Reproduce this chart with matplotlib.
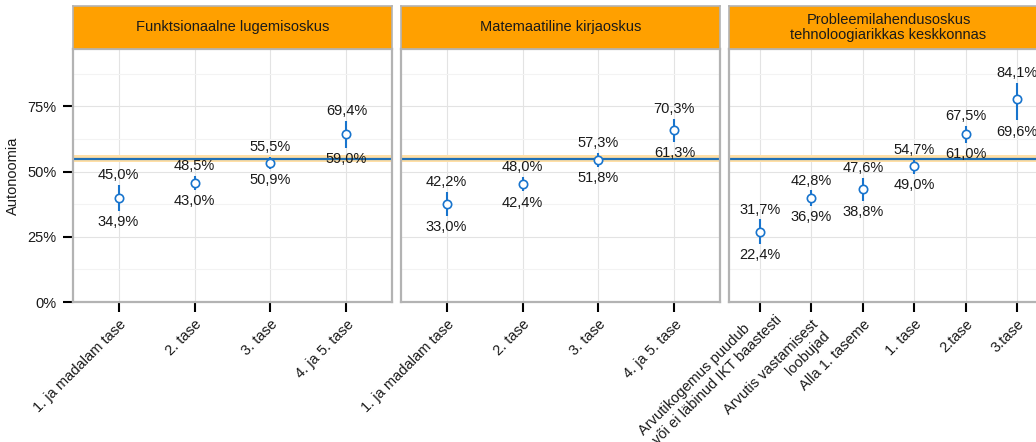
import numpy as np
import matplotlib
matplotlib.use("Agg")
import matplotlib.pyplot as plt
from matplotlib.ticker import FixedLocator

plt.rcParams['font.family'] = ['Liberation Sans', 'DejaVu Sans']

#------------------------------------------------------------------------------
# data (percent)

panels = ["Funktsionaalne lugemisoskus",
          "Matemaatiline kirjaoskus",
          "Probleemilahendusoskus\ntehnoloogiarikkas keskkonnas"]

cats1 = ["1. ja madalam tase", "2. tase", "3. tase", "4. ja 5. tase"]
cats2 = ["1. ja madalam tase", "2. tase", "3. tase", "4. ja 5. tase"]
cats3 = ["Arvutikogemus puudub\nvõi ei läbinud IKT baastesti",
         "Arvutis vastamisest\nloobujad", "Alla 1. taseme",
         "1. tase", "2.tase", "3.tase"]

est1 = [40.0, 45.8, 53.3, 64.5]
lo1 = [34.9, 43.0, 50.9, 59.0]
hi1 = [45.0, 48.5, 55.5, 69.4]

est2 = [37.7, 45.3, 54.6, 66.0]
lo2 = [33.0, 42.4, 51.8, 61.3]
hi2 = [42.2, 48.0, 57.3, 70.3]

est3 = [27.0, 40.0, 43.5, 52.2, 64.5, 78.0]
lo3 = [22.4, 36.9, 38.8, 49.0, 61.0, 69.6]
hi3 = [31.7, 42.8, 47.6, 54.7, 67.5, 84.1]

overall = 55.0
overall_lo = 53.6
overall_hi = 56.3

#------------------------------------------------------------------------------

W, H = 1036, 442
fig = plt.figure(figsize=(W/100, H/100), dpi=100)

blue = '#1874CD'
grey = '#B3B3B3'
orange = '#FFA000'
txt = '#1a1a1a'

def fmt(v):
    return f"{v:.1f}%".replace('.', ',')

lefts = [73, 401, 729]
pw = 319
top, bot = 49, 302
strip_top = 6

data = [(cats1, est1, lo1, hi1), (cats2, est2, lo2, hi2), (cats3, est3, lo3, hi3)]

for i, (cats, est, lo, hi) in enumerate(data):
    x0 = lefts[i]
    ax = fig.add_axes([x0/W, (H-bot)/H, pw/W, (bot-top)/H])
    n = len(cats)
    x = np.arange(n)

    ax.set_xlim(-0.6, n - 0.4)
    ax.set_ylim(0, 97)

    ax.axhspan(overall_lo, overall_hi, color='#FFDFA6', zorder=1, lw=0)
    ax.axhline(overall, color='#1F6FB5', lw=1.6, zorder=2)

    ax.vlines(x, lo, hi, color=blue, lw=1.5, zorder=3)
    ax.plot(x, est, 'o', ms=6, mfc='white', mec=blue, mew=1.2, zorder=4)

    for xi, l, h in zip(x, lo, hi):
        ax.annotate(fmt(h), (xi, h), xytext=(0, 2), textcoords='offset points',
                    ha='center', va='bottom', fontsize=10.5, color=txt, zorder=5)
        ax.annotate(fmt(l), (xi, l), xytext=(0, -3), textcoords='offset points',
                    ha='center', va='top', fontsize=10.5, color=txt, zorder=5)

    ax.set_yticks([0, 25, 50, 75])
    ax.yaxis.set_minor_locator(FixedLocator([12.5, 37.5, 62.5, 87.5]))
    ax.set_xticks(x)
    ax.grid(which='major', color='#E3E3E3', lw=0.8, zorder=0)
    ax.grid(which='minor', axis='y', color='#F3F3F3', lw=0.8, zorder=0)
    ax.set_axisbelow(True)

    ax.tick_params(axis='x', length=7, width=1.5, color='black', labelsize=10.5,
                   labelcolor=txt, pad=4)
    ax.tick_params(axis='y', which='minor', length=0)
    if i == 0:
        ax.set_yticklabels(['0%', '25%', '50%', '75%'])
        ax.tick_params(axis='y', length=7, width=1.5, color='black', labelsize=10.5,
                       labelcolor=txt, pad=5)
        ax.set_ylabel("Autonoomia", fontsize=10.5, color=txt, labelpad=5)
    else:
        ax.tick_params(axis='y', length=0, labelleft=False)

    labels = list(cats)
    if i == 2:
        # the first two-line label is drawn line by line (uneven alignment)
        labels[0] = ''
        line1, line2 = cats[0].split('\n')
        for s, off in [(line1, (-12.2, -13.9)), (line2, (10.8, -7.4))]:
            ax.annotate(s, (0, 0), xycoords=ax.get_xaxis_transform(),
                        xytext=off, textcoords='offset points',
                        rotation=45, ha='right', va='top', rotation_mode='anchor',
                        fontsize=10.5, color=txt, annotation_clip=False)
    ax.set_xticklabels(labels, rotation=45, ha='right', va='top',
                       rotation_mode='anchor', multialignment='right')

    for s in ax.spines.values():
        s.set_color(grey)
        s.set_linewidth(1.6)

    # strip
    sax = fig.add_axes([x0/W, (H-top)/H, pw/W, (top-strip_top)/H])
    sax.set_facecolor(orange)
    sax.set_xticks([])
    sax.set_yticks([])
    for s in sax.spines.values():
        s.set_color(grey)
        s.set_linewidth(1.2)
    sax.text(0.5, 0.5, panels[i], ha='center', va='center', fontsize=10.5,
             color=txt, linespacing=1.1, transform=sax.transAxes)

fig.savefig("out.png", dpi=100)
